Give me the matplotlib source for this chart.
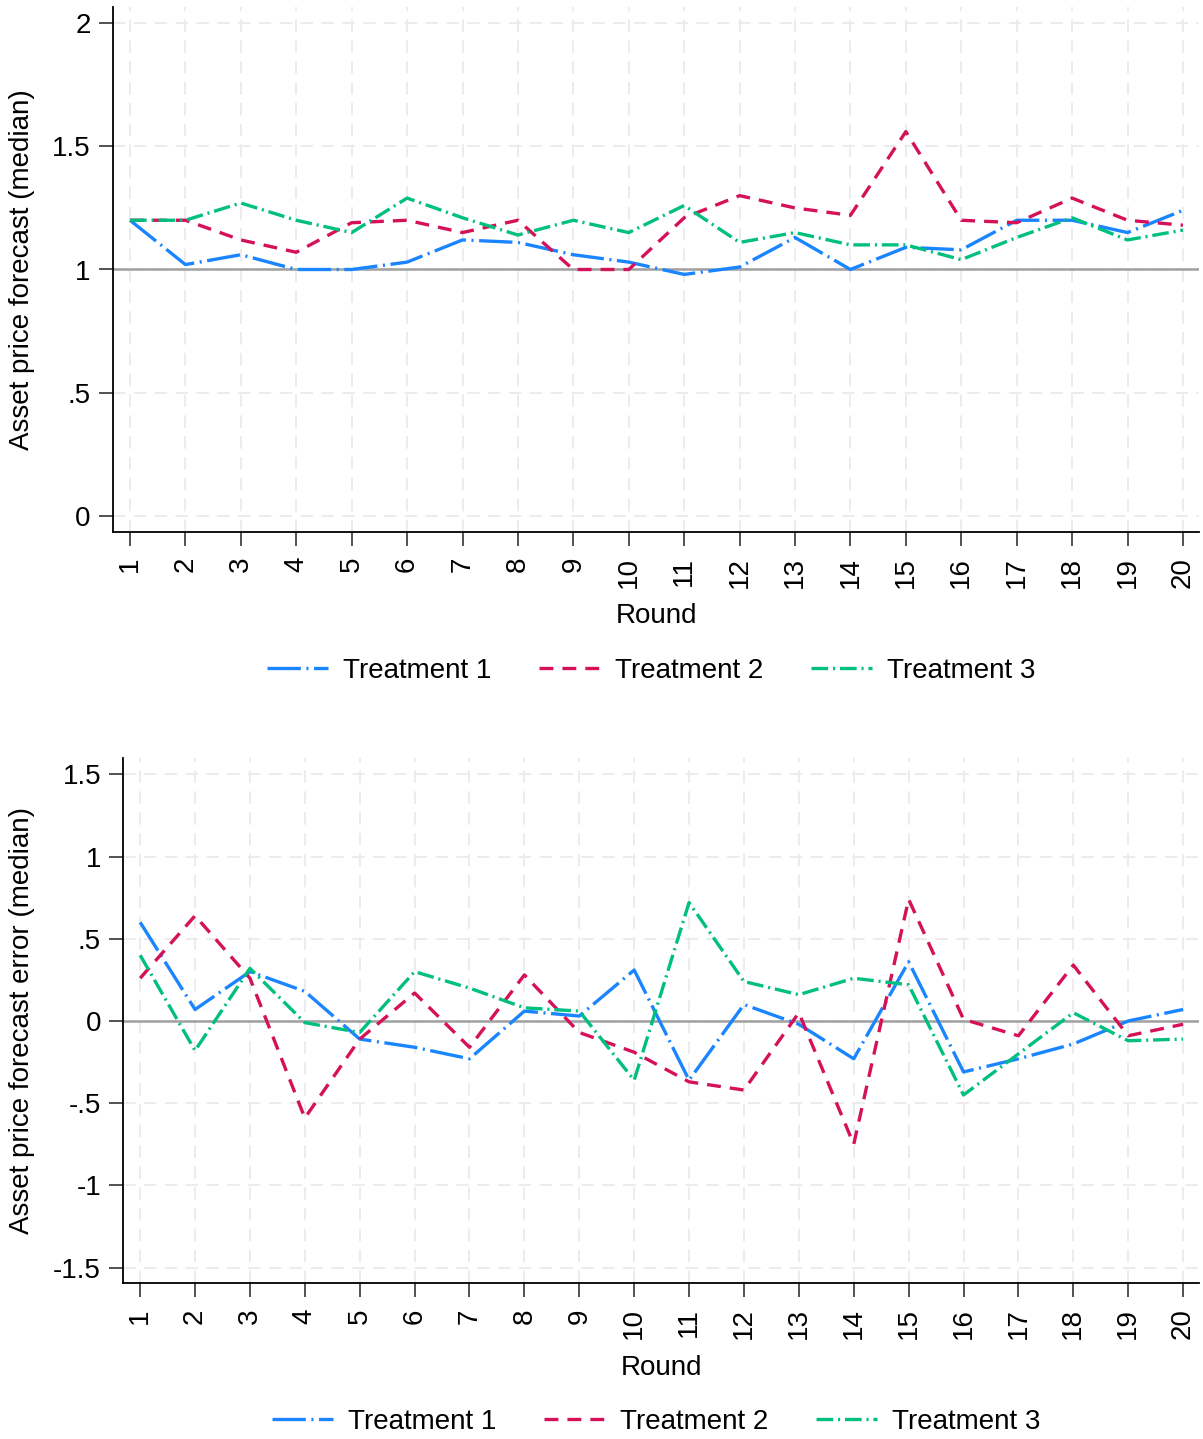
import matplotlib
matplotlib.use("Agg")
import matplotlib.pyplot as plt
from matplotlib.lines import Line2D

plt.rcParams['font.family'] = ['Liberation Sans', 'DejaVu Sans']
plt.rcParams['lines.scale_dashes'] = False

# Data
rounds = list(range(1, 21))

forecast_t1 = [1.20, 1.02, 1.06, 1.00, 1.00, 1.03, 1.12, 1.11, 1.06, 1.03,
               0.98, 1.01, 1.13, 1.00, 1.09, 1.08, 1.20, 1.20, 1.15, 1.24]
forecast_t2 = [1.20, 1.20, 1.12, 1.07, 1.19, 1.20, 1.15, 1.20, 1.00, 1.00,
               1.21, 1.30, 1.25, 1.22, 1.56, 1.20, 1.19, 1.29, 1.20, 1.18]
forecast_t3 = [1.20, 1.20, 1.27, 1.20, 1.15, 1.29, 1.21, 1.14, 1.20, 1.15,
               1.26, 1.11, 1.15, 1.10, 1.10, 1.04, 1.13, 1.21, 1.12, 1.16]

error_t1 = [0.60, 0.07, 0.30, 0.18, -0.11, -0.16, -0.23, 0.06, 0.03, 0.31,
            -0.36, 0.10, -0.02, -0.23, 0.36, -0.31, -0.23, -0.14, 0.00, 0.07]
error_t2 = [0.26, 0.64, 0.26, -0.59, -0.11, 0.17, -0.16, 0.28, -0.07, -0.19,
            -0.37, -0.42, 0.05, -0.75, 0.74, 0.01, -0.09, 0.34, -0.09, -0.02]
error_t3 = [0.40, -0.18, 0.32, -0.01, -0.07, 0.30, 0.20, 0.08, 0.06, -0.36,
            0.72, 0.24, 0.16, 0.26, 0.22, -0.45, -0.20, 0.05, -0.12, -0.11]

top_yticks = [0, 0.5, 1, 1.5, 2]
top_yticklabels = ['0', '.5', '1', '1.5', '2']
bottom_yticks = [-1.5, -1, -0.5, 0, 0.5, 1, 1.5]
bottom_yticklabels = ['-1.5', '-1', '-.5', '0', '.5', '1', '1.5']
labels = ['Treatment 1', 'Treatment 2', 'Treatment 3']

colors = ['#1a85ff', '#d41159', '#00bf7f']
styles = [(0, (24, 4, 1.5, 4)), (0, (10, 6.5)), (0, (12, 3.5, 1.5, 3.5))]
lw = 2.4

W, H = 1203, 1439
fig = plt.figure(figsize=(W / 100, H / 100), dpi=100)

ax1 = fig.add_axes([113 / W, 1 - 532 / H, (1199 - 113) / W, (532 - 7) / H])
ax2 = fig.add_axes([123.3 / W, 1 - 1283.3 / H, (1199 - 123.3) / W, (1283.3 - 758) / H])


def style_axes(ax, yticks, yticklabels, ylim, refline, ylabel, ylab_x):
    ax.set_xlim(0.693, 20.29)
    ax.set_ylim(*ylim)
    ax.set_xticks(rounds)
    ax.set_xticklabels([str(r) for r in rounds], rotation=90)
    ax.set_yticks(yticks)
    ax.set_yticklabels(yticklabels)
    ax.tick_params(axis='both', labelsize=20, length=10, width=1.3,
                   color='#444444')
    ax.tick_params(axis='x', pad=8)
    ax.tick_params(axis='y', pad=6)
    for s in ['top', 'right']:
        ax.spines[s].set_visible(False)
    for s in ['left', 'bottom']:
        ax.spines[s].set_linewidth(1.3)
    ax.grid(True, color='#ebebeb', linestyle=(0, (9, 6)), linewidth=1.3)
    ax.set_axisbelow(True)
    ax.axhline(refline, color='#a0a0a0', linewidth=1.8, zorder=1.5)
    ax.set_xlabel('Round', fontsize=20)
    ax.set_ylabel(ylabel, fontsize=20)
    ax.xaxis.set_label_coords(0.5, -0.136)
    ax.yaxis.set_label_coords(ylab_x, 0.5)


style_axes(ax1, top_yticks, top_yticklabels, (-0.066, 2.066), 1,
           'Asset price forecast (median)', -0.072)
style_axes(ax2, bottom_yticks, bottom_yticklabels, (-1.595, 1.599), 0,
           'Asset price forecast error (median)', -0.082)

for ys, c, ls in zip([forecast_t1, forecast_t2, forecast_t3], colors, styles):
    ax1.plot(rounds, ys, color=c, linestyle=ls, linewidth=lw, zorder=3)
for ys, c, ls in zip([error_t1, error_t2, error_t3], colors, styles):
    ax2.plot(rounds, ys, color=c, linestyle=ls, linewidth=lw, zorder=3)

handles = [Line2D([0], [0], color=c, linestyle=ls, linewidth=lw)
           for c, ls in zip(colors, styles)]
for cx, cy in [(651 / W, 1 - 671 / H), (656 / W, 1 - 1422 / H)]:
    fig.legend(handles, labels, loc='center', bbox_to_anchor=(cx, cy),
               ncol=3, frameon=False, fontsize=20, handlelength=2.2,
               handletextpad=0.55, columnspacing=1.7, borderpad=0.2)

fig.savefig('out.png', dpi=100, facecolor='white')
